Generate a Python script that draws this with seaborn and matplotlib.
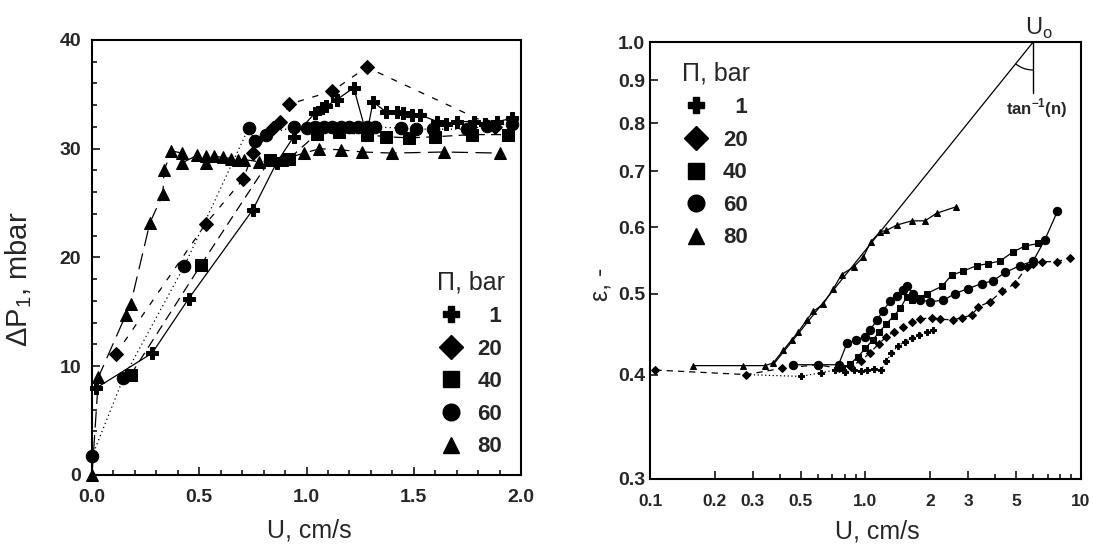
import numpy as np
import pandas as pd
import matplotlib
matplotlib.use('Agg')
import matplotlib.pyplot as plt
import matplotlib.ticker as mticker
from matplotlib.lines import Line2D
from matplotlib.patches import Arc
import seaborn as sns

sns.set_style('ticks')
plt.rcParams['font.family'] = ['Liberation Sans', 'DejaVu Sans']
plt.rcParams['mathtext.fontset'] = 'custom'
plt.rcParams['mathtext.rm'] = 'Liberation Sans'
plt.rcParams['mathtext.bf'] = 'Liberation Sans:bold'

# legend levels (bar) and their markers
pressures = ['1', '20', '40', '60', '80']
markers = ['P', 'D', 's', 'o', '^']

# ---- left panel: pressure drop vs U
u1_a = [0.02, 0.28, 0.45, 0.75, 0.86, 0.94, 1.04, 1.07, 1.09, 1.14, 1.22, 1.28, 1.31,
        1.37, 1.42, 1.45, 1.49, 1.53, 1.61, 1.65, 1.70, 1.78, 1.83, 1.89, 1.96]
dp1_a = [8.0, 11.2, 16.2, 24.4, 28.7, 31.1, 33.3, 33.7, 33.9, 34.5, 35.6, 31.3, 34.3,
         33.4, 33.4, 33.3, 33.1, 33.1, 32.5, 32.3, 32.5, 32.5, 32.3, 32.5, 32.8]
u20_a = [0.11, 0.53, 0.705, 0.75, 0.845, 0.876, 0.92, 1.12, 1.28, 1.88]
dp20_a = [11.1, 23.1, 27.2, 29.6, 31.9, 32.5, 34.1, 35.3, 37.5, 32.0]
u40_a = [0.18, 0.507, 0.83, 0.92, 1.05, 1.15, 1.28, 1.37, 1.48, 1.60, 1.77, 1.94]
dp40_a = [9.2, 19.3, 29.0, 29.1, 31.4, 31.5, 31.3, 31.1, 31.0, 31.1, 31.3, 31.3]
u60_a = [0.0, 0.146, 0.43, 0.73, 0.76, 0.81, 0.94, 1.0, 1.04, 1.08, 1.12, 1.16, 1.2,
         1.24, 1.28, 1.32, 1.44, 1.51, 1.59, 1.75, 1.84, 1.96]
dp60_a = [1.7, 8.9, 19.2, 31.9, 30.7, 31.3, 32.0, 31.9, 32.0, 32.0, 32.0, 32.0, 32.0,
          32.0, 32.0, 32.0, 31.9, 31.8, 31.8, 31.8, 32.1, 32.3]
u80_a = [0.0, 0.03, 0.157, 0.18, 0.27, 0.33, 0.336, 0.37, 0.42, 0.42, 0.49, 0.53, 0.53,
         0.57, 0.61, 0.65, 0.68, 0.71, 0.78, 0.884, 0.99, 1.06, 1.16, 1.26, 1.40, 1.64, 1.90]
dp80_a = [0.0, 9.0, 14.7, 15.7, 23.2, 25.8, 28.0, 29.8, 29.6, 28.7, 29.4, 28.7, 29.3,
          29.3, 29.2, 29.1, 29.0, 29.0, 28.8, 29.0, 29.6, 30.0, 29.9, 29.7, 29.6, 29.7, 29.6]

# ---- right panel: voidage vs U (log-log)
u1_b = [0.28, 0.5, 0.62, 0.72, 0.8, 0.88, 0.95, 1.02, 1.1, 1.18, 1.25, 1.32, 1.42, 1.52,
        1.64, 1.78, 1.92, 2.05]
e1_b = [0.40, 0.398, 0.402, 0.405, 0.403, 0.405, 0.404, 0.405, 0.406, 0.405, 0.415, 0.425,
        0.433, 0.438, 0.442, 0.446, 0.450, 0.452]
u20_b = [0.106, 0.28, 0.41, 0.6, 0.75, 0.85, 0.95, 1.05, 1.15, 1.25, 1.35, 1.5, 1.64, 1.79,
         2.03, 2.22, 2.55, 2.8, 3.11, 3.34, 3.78, 4.29, 4.94, 5.6, 6.0, 6.58, 7.7, 8.9]
e20_b = [0.405, 0.40, 0.407, 0.411, 0.407, 0.41, 0.415, 0.425, 0.435, 0.444, 0.45, 0.456,
         0.462, 0.466, 0.468, 0.466, 0.465, 0.468, 0.471, 0.482, 0.489, 0.503, 0.514, 0.538,
         0.543, 0.546, 0.546, 0.551]
u40_b = [0.78, 0.85, 0.92, 1.0, 1.08, 1.16, 1.25, 1.35, 1.45, 1.55, 1.64, 1.79, 1.92, 2.26,
         2.51, 2.84, 3.28, 3.71, 4.21, 4.85, 5.5, 6.34]
e40_b = [0.407, 0.412, 0.42, 0.43, 0.44, 0.45, 0.46, 0.47, 0.48, 0.495, 0.491, 0.494, 0.50,
         0.51, 0.526, 0.532, 0.54, 0.543, 0.547, 0.561, 0.570, 0.574]
u60_b = [0.46, 0.6, 0.75, 0.82, 0.9, 0.995, 1.05, 1.13, 1.21, 1.30, 1.40, 1.50, 1.56, 1.66,
         1.79, 2.0, 2.30, 2.60, 3.0, 3.46, 3.92, 4.44, 5.21, 6.0, 6.8, 7.77]
e60_b = [0.411, 0.411, 0.411, 0.436, 0.44, 0.444, 0.452, 0.465, 0.477, 0.49, 0.497, 0.505,
         0.51, 0.50, 0.491, 0.489, 0.491, 0.50, 0.507, 0.514, 0.518, 0.53, 0.54, 0.547,
         0.58, 0.627]
u80_b = [0.159, 0.271, 0.342, 0.373, 0.416, 0.454, 0.488, 0.533, 0.573, 0.637, 0.71, 0.775,
         0.88, 0.977, 1.06, 1.17, 1.25, 1.40, 1.64, 1.89, 2.14, 2.63]
e80_b = [0.41, 0.41, 0.41, 0.413, 0.428, 0.44, 0.45, 0.465, 0.476, 0.486, 0.507, 0.527,
         0.538, 0.553, 0.577, 0.593, 0.595, 0.604, 0.611, 0.611, 0.624, 0.635]

# power-law fit line and minimum fluidisation point U0
fit_u = [0.37, 6.0]
fit_eps = [0.41, 1.0]
U0 = 6.0

left_x = [u1_a, u20_a, u40_a, u60_a, u80_a]
left_y = [dp1_a, dp20_a, dp40_a, dp60_a, dp80_a]
left_ls = ['-', (0, (5, 7)), (0, (8, 5)), (0, (1, 2.5)), (0, (13, 6))]
left_ms = [9, 7, 8, 9, 9]

right_x = [u1_b, u20_b, u40_b, u60_b, u80_b]
right_y = [e1_b, e20_b, e40_b, e60_b, e80_b]
right_ls = [(0, (1, 2)), (0, (5, 4)), '-', '-', '-']
right_ms = [5, 4.5, 5, 6, 5]

fig = plt.figure(figsize=(10.93, 5.5), dpi=100)
ax1 = fig.add_axes([0.0842, 0.1364, 0.3925, 0.7909])
ax2 = fig.add_axes([0.5947, 0.1291, 0.3943, 0.7945])

for i, p in enumerate(pressures):
    sns.lineplot(x=left_x[i], y=left_y[i], ax=ax1, estimator=None, sort=False,
                 color='black', marker=markers[i], markersize=left_ms[i],
                 markeredgecolor='black', linestyle=left_ls[i], linewidth=0.9,
                 clip_on=False)
    sns.lineplot(x=right_x[i], y=right_y[i], ax=ax2, estimator=None, sort=False,
                 color='black', marker=markers[i], markersize=right_ms[i],
                 markeredgecolor='black', linestyle=right_ls[i], linewidth=0.9,
                 clip_on=False)

# left axis formatting
ax1.set_xlim(0, 2.0)
ax1.set_ylim(0, 40)
ax1.xaxis.set_major_locator(mticker.MultipleLocator(0.5))
ax1.xaxis.set_minor_locator(mticker.MultipleLocator(0.1))
ax1.yaxis.set_major_locator(mticker.MultipleLocator(10))
ax1.yaxis.set_minor_locator(mticker.MultipleLocator(2))
ax1.xaxis.set_major_formatter(mticker.FormatStrFormatter('%.1f'))
ax1.tick_params(axis='x', pad=10)
ax1.tick_params(axis='y', pad=8)
ax1.set_xlabel('U, cm/s', fontsize=18)
ax1.set_ylabel('ΔP$_\\mathregular{1}$, mbar', fontsize=21)
ax1.xaxis.set_label_coords(0.506, -0.1)
ax1.yaxis.set_label_coords(-0.135, 0.45)

# right axis formatting
ax2.set_xscale('log')
ax2.set_yscale('log')
ax2.set_xlim(0.1, 10)
ax2.set_ylim(0.3, 1.0)
ax2.xaxis.set_major_locator(mticker.FixedLocator([0.1, 0.2, 0.3, 0.5, 1, 2, 3, 5, 10]))
ax2.xaxis.set_major_formatter(mticker.FixedFormatter(['0.1', '0.2', '0.3', '0.5', '1.0',
                                                       '2', '3', '5', '10']))
ax2.xaxis.set_minor_locator(mticker.FixedLocator([0.4, 0.6, 0.7, 0.8, 0.9, 4, 6, 7, 8, 9]))
ax2.xaxis.set_minor_formatter(mticker.NullFormatter())
ax2.yaxis.set_major_locator(mticker.FixedLocator([0.3, 0.4, 0.5, 0.6, 0.7, 0.8, 0.9, 1.0]))
ax2.yaxis.set_major_formatter(mticker.FormatStrFormatter('%.1f'))
ax2.yaxis.set_minor_locator(mticker.NullLocator())
ax2.yaxis.set_minor_formatter(mticker.NullFormatter())
ax2.tick_params(axis='x', pad=11)
ax2.tick_params(axis='y', pad=3.5)
ax2.set_xlabel('U, cm/s', fontsize=18)
ax2.set_ylabel('ε, -', fontsize=18)
ax2.xaxis.set_label_coords(0.527, -0.092)
ax2.yaxis.set_label_coords(-0.088, 0.445)

for ax in (ax1, ax2):
    for s in ax.spines.values():
        s.set_linewidth(1.5)
        s.set_color('black')
    ax.tick_params(which='both', direction='in', top=False, right=False,
                   width=1.1, color='black')
    ax.tick_params(which='major', length=6)
    ax.tick_params(which='minor', length=3.5)
    for lab in ax.get_xticklabels() + ax.get_yticklabels():
        lab.set_fontweight('bold')
        lab.set_fontsize(14)
for lab in ax2.get_xticklabels():
    lab.set_fontsize(12.5)

# fitted line, U0 marker and angle
ax2.plot(fit_u, fit_eps, color='black', linewidth=0.9)
ax2.plot([U0, U0], [1.0, 0.87], color='black', linewidth=1.0)
x0 = (np.log10(U0) + 1) / 2
ax2.add_patch(Arc((x0, 1.0), 56 / 431, 56 / 437, theta1=231, theta2=270,
                  transform=ax2.transAxes, color='black', linewidth=0.9))
ax2.annotate(r'U$_\mathregular{o}$', xy=(U0, 1.0), xytext=(-6, 1),
             textcoords='offset points', ha='left', va='bottom', fontsize=17,
             annotation_clip=False)
ax2.text(0.898, 0.849, r'tan$^{\mathbf{-1}}$(n)', transform=ax2.transAxes,
         ha='center', va='center', fontsize=12, fontweight='bold')

# legends
handles = [Line2D([], [], linestyle='none', marker=m, color='black', markersize=12)
           for m in markers]
labels = ['\u2007' + p if len(p) == 1 else p for p in pressures]
leg_kw = dict(frameon=False, handlelength=1.0, handletextpad=0.7, labelspacing=0.52,
              borderpad=0, borderaxespad=0,
              prop={'size': 16, 'weight': 'bold'}, title='Π, bar',
              title_fontproperties={'size': 18})
ax1.legend(handles, labels, loc='upper right', bbox_to_anchor=(0.962, 0.47), **leg_kw)
ax2.legend(handles, labels, loc='upper left', bbox_to_anchor=(0.075, 0.955), **leg_kw)

fig.savefig('out.png', dpi=100)
